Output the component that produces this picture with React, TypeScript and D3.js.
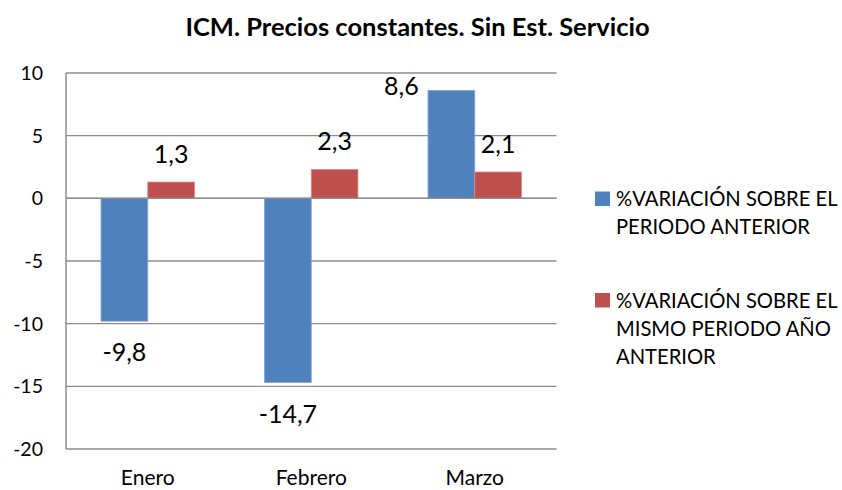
import * as d3 from "d3";

const TITLE = "ICM. Precios constantes. Sin Est. Servicio";
const CATEGORIES = ["Enero", "Febrero", "Marzo"];
const SERIES_NAMES = [
  ["%VARIACIÓN SOBRE EL", "PERIODO ANTERIOR"],
  ["%VARIACIÓN SOBRE EL", "MISMO PERIODO AÑO", "ANTERIOR"],
];
const PERIODO_ANTERIOR = [-9.8, -14.7, 8.6];
const MISMO_PERIODO = [1.3, 2.3, 2.1];
const Y_TICKS = [-20, -15, -10, -5, 0, 5, 10];

const COLORS = ["#4F81BD", "#C0504D"];
const EDGES = ["#7FA3D2", "#D98A88"];
const FONT = "Lato, 'Open Sans', sans-serif";
const GRID = "#8c8c8c";

const W = 842;
const H = 490;
const plot = { left: 66, right: 556.5, top: 73, bottom: 449 };

const fmt = (v: number) => String(v).replace(".", ",");

export default function App() {
  const series = [PERIODO_ANTERIOR, MISMO_PERIODO];

  const y = d3.scaleLinear().domain([-20, 10]).range([plot.bottom, plot.top]);
  const x = d3
    .scaleBand<string>()
    .domain(CATEGORIES)
    .range([plot.left, plot.right])
    .padding(0);
  const inner = d3
    .scaleBand<number>()
    .domain([0, 1])
    .range([0, x.bandwidth()])
    .paddingInner(0)
    .paddingOuter(0.75);

  return (
    <svg
      width={W}
      height={H}
      style={{ position: "absolute", left: 0, top: 0, background: "#fff" }}
      fontFamily={FONT}
    >
      <text
        x={417.5}
        y={36}
        textAnchor="middle"
        fontSize={25.5}
        fontWeight="bold"
        fill="#000"
      >
        {TITLE}
      </text>

      {/* horizontal grid + y tick labels */}
      {Y_TICKS.map((t) => (
        <g key={t}>
          <line
            x1={plot.left}
            x2={plot.right}
            y1={y(t)}
            y2={y(t)}
            stroke={GRID}
            strokeWidth={1.3}
          />
          <text
            x={43}
            y={y(t) + 7}
            textAnchor="end"
            fontSize={19.5}
            fill="#000"
          >
            {t}
          </text>
        </g>
      ))}
      <line
        x1={plot.left}
        x2={plot.left}
        y1={plot.top}
        y2={plot.bottom}
        stroke={GRID}
        strokeWidth={1.5}
      />

      {/* bars */}
      {series.map((vals, si) =>
        vals.map((v, ci) => {
          const bx = x(CATEGORIES[ci])! + inner(si)!;
          const bw = inner.bandwidth();
          const y0 = y(Math.max(0, v));
          const y1 = y(Math.min(0, v));
          return (
            <rect
              key={`${si}-${ci}`}
              x={bx}
              y={y0}
              width={bw}
              height={y1 - y0}
              fill={COLORS[si]}
              stroke={EDGES[si]}
              strokeWidth={0.8}
            />
          );
        })
      )}
      {/* zero line drawn over bars */}
      <line
        x1={plot.left}
        x2={plot.right}
        y1={y(0)}
        y2={y(0)}
        stroke={GRID}
        strokeWidth={1.5}
      />

      {/* data labels */}
      {series.map((vals, si) =>
        vals.map((v, ci) => {
          const cx = x(CATEGORIES[ci])! + inner(si)! + inner.bandwidth() / 2;
          let lx = cx;
          let ly = v >= 0 ? y(v) - 19.5 : y(v) + 40;
          // label would run into the top of the plot: move it left of the bar
          if (v >= 0 && ly - 16 < plot.top) {
            lx = cx - 50;
            ly = y(v) + 4.5;
          }
          return (
            <text
              key={`l${si}-${ci}`}
              x={lx}
              y={ly}
              textAnchor="middle"
              fontSize={25}
              fill="#000"
            >
              {fmt(v)}
            </text>
          );
        })
      )}

      {/* category labels */}
      {CATEGORIES.map((c) => (
        <text
          key={c}
          x={x(c)! + x.bandwidth() / 2}
          y={485}
          textAnchor="middle"
          fontSize={21}
          fill="#000"
        >
          {c}
        </text>
      ))}

      {/* legend */}
      {SERIES_NAMES.map((lines, si) => {
        const top = si === 0 ? 191.5 : 293;
        return (
          <g key={si}>
            <rect x={595} y={top} width={15} height={14.5} fill={COLORS[si]} />
            {lines.map((ln, li) => (
              <text
                key={li}
                x={616}
                y={top + 14.5 + li * 28.3}
                fontSize={20.2}
                fill="#000"
              >
                {ln}
              </text>
            ))}
          </g>
        );
      })}
    </svg>
  );
}
